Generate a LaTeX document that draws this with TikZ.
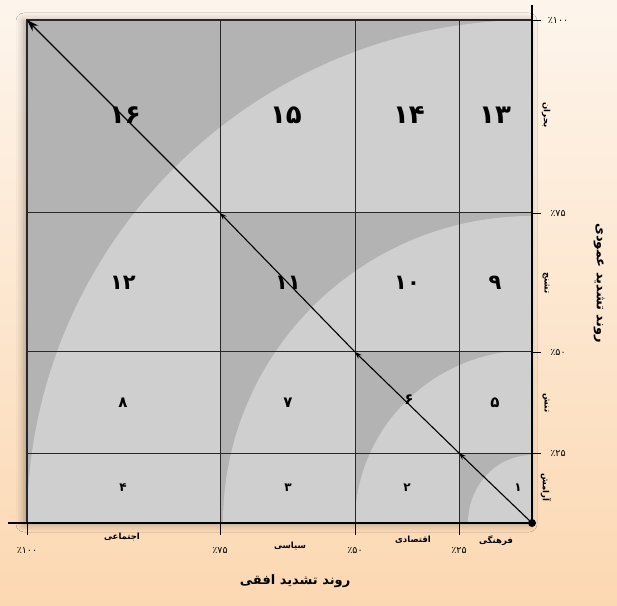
\documentclass[tikz,border=0pt]{standalone}
\usepackage{fontspec}
\usetikzlibrary{positioning, arrows.meta, shadows.blur}
\newfontfamily\fa[Script=Arabic]{DejaVu Sans}
\TeXXeTstate=1
\definecolor{cellLight}{RGB}{207,207,207}
\definecolor{cellDark}{RGB}{179,179,179}
\definecolor{bgTop}{RGB}{253,245,236}
\definecolor{bgBot}{RGB}{252,216,178}
\definecolor{gridLine}{RGB}{40,40,40}
\tikzset{
  gline/.style={gridLine, line width=1pt},
  axisline/.style={black, line width=1.6pt},
  tickmark/.style={black, line width=0.8pt},
  pct/.style={font=\fa\fontsize{9.5}{11}\selectfont, inner sep=1pt},
  cat/.style={font=\fa\bfseries\fontsize{8.5}{10}\selectfont, inner sep=1pt},
  ttl/.style={font=\fa\bfseries\fontsize{13}{15}\selectfont, inner sep=1pt},
  numA/.style={font=\fa\bfseries\fontsize{12}{14}\selectfont},
  numB/.style={font=\fa\bfseries\fontsize{15}{17}\selectfont},
  numC/.style={font=\fa\bfseries\fontsize{21}{23}\selectfont},
  numD/.style={font=\fa\bfseries\fontsize{26}{28}\selectfont},
  trend/.style={black, line width=1.1pt, -{Stealth[length=7pt, width=5pt]}},
}

\begin{document}
\begin{tikzpicture}[x=1pt, y=1pt]
  \useasboundingbox (0,0) rectangle (617,605);
  \shade[top color=bgTop, bottom color=bgBot] (0,0) rectangle (617,605);

  % corners of the nested regions
  \coordinate (O) at (532,82);
  \coordinate (c1) at (459,152);
  \coordinate (c2) at (355,253);
  \coordinate (c3) at (220,392);
  \coordinate (c4) at (27,585);

  % shaded bands
  \path[blur shadow={shadow xshift=-3pt, shadow yshift=-1pt, shadow blur radius=8pt, shadow opacity=35}]
    (27,82) rectangle (532,585);
  \begin{scope}
    \clip (27,82) rectangle (532,585);
    \fill[cellDark] (27,82) rectangle (532,585);
    \fill[cellLight] (O) ellipse [x radius=505pt, y radius=503pt];
    \fill[cellDark] (220,82) rectangle (532,392);
    \fill[cellLight] (O) ellipse [x radius=309pt, y radius=307pt];
    \fill[cellDark] (355,82) rectangle (532,253);
    \fill[cellLight] (O) ellipse [x radius=177pt, y radius=173pt];
    \fill[cellDark] (459,82) rectangle (532,152);
    \fill[cellLight] (O) ellipse [x radius=64pt, y radius=68pt];
  \end{scope}

  % grid
  \foreach \gx in {220,355,459} \draw[gline] (\gx,82) -- (\gx,585);
  \foreach \gy in {152,253,392} \draw[gline] (27,\gy) -- (532,\gy);
  \draw[gline, line width=1.3pt] (27,82) -- (27,585) -- (532,585);

  % axes
  \draw[axisline] (8,82) -- (O) -- (532,600);
  \foreach \tx/\tl in {27/٪۱۰۰, 220/٪۷۵, 355/٪۵۰, 459/٪۲۵} {
    \draw[tickmark] (\tx,82) -- (\tx,70);
    \node[pct] (px\tx) at (\tx,55) {\tl};
  }
  \foreach \ty/\tl in {585/٪۱۰۰, 392/٪۷۵, 253/٪۵۰, 152/٪۲۵} {
    \draw[tickmark] (532,\ty) -- (541,\ty);
    \node[pct] (py\ty) at (558,\ty) {\tl};
  }

  % categories
  \node[cat] (ejt) at (122,68) {اجتماعی};
  \node[cat] (sys) at (290,59) {سیاسی};
  \node[cat] (eqt) at (413,65) {اقتصادی};
  \node[cat] (frh) at (496,64) {فرهنگی};
  \node[cat, rotate=-90] (bhr) at (546,490) {بحران};
  \node[cat, rotate=-90] (tsj) at (546,322) {تشنج};
  \node[cat, rotate=-90] (tns) at (546,202) {تنش};
  \node[cat, rotate=-90] (arm) at (546,118) {آرامش};
  \node[ttl] (xttl) at (295,24) {\beginR روند تشدید افقی\endR};
  \node[ttl, rotate=-90] (yttl) at (599,322) {\beginR روند تشدید عمودی\endR};

  % cell numbers
  \node[numA] (n1) at (518,117) {۱};
  \node[numA] (n2) at (407,117) {۲};
  \node[numA] (n3) at (288,117) {۳};
  \node[numA] (n4) at (123,117) {۴};
  \node[numB] (n5) at (495,202) {۵};
  \node[numB] (n6) at (409,205) {۶};
  \node[numB] (n7) at (288,202) {۷};
  \node[numB] (n8) at (123,202) {۸};
  \node[numC] (n9) at (495,322) {۹};
  \node[numC] (n10) at (407,322) {۱۰};
  \node[numC] (n11) at (288,322) {۱۱};
  \node[numC] (n12) at (123,322) {۱۲};
  \node[numD] (n13) at (495,490) {۱۳};
  \node[numD] (n14) at (409,490) {۱۴};
  \node[numD] (n15) at (286,490) {۱۵};
  \node[numD] (n16) at (125,490) {۱۶};

  % trend line
  \draw[trend] (O)--(c1);\draw[trend] (c1)--(c2);\draw[trend] (c2)--(c3);
  \draw[trend, -{Stealth[length=12pt, width=8pt]}] (c3)--(c4);
  \fill (O) circle (4pt);
\end{tikzpicture}
\end{document}
